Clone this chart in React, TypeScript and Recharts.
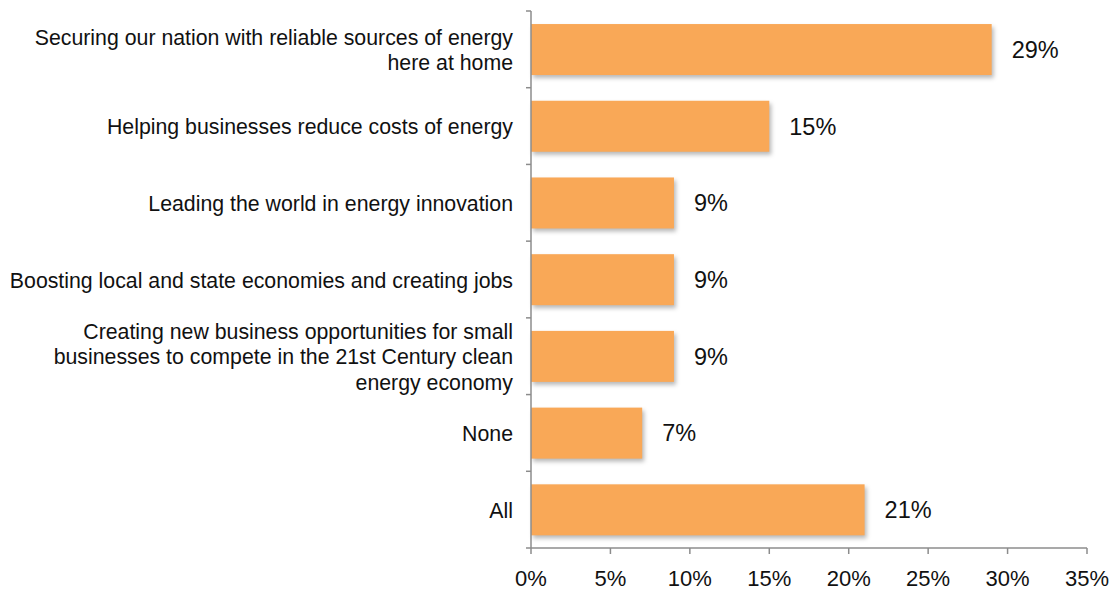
import React from "react";
import { BarChart, Bar, XAxis, YAxis, LabelList } from "recharts";

const categories = [
  "Securing our nation with reliable sources of energy\nhere at home",
  "Helping businesses reduce costs of energy",
  "Leading the world in energy innovation",
  "Boosting local and state economies and creating jobs",
  "Creating new business opportunities for small\nbusinesses to compete in the 21st Century clean\nenergy economy",
  "None",
  "All",
];
const values = [29, 15, 9, 9, 9, 7, 21];
const xTicks = [0, 5, 10, 15, 20, 25, 30, 35];

const data = categories.map((name, i) => ({ name, value: values[i] }));

const AXIS = "#8c8c8c";
const FONT = "'Liberation Sans', Arial, sans-serif";
const TICK_SIZE = 5;
const TICK_MARGIN = 13;

function CategoryTick(props: any) {
  const { x, y, payload, index, visibleTicksCount } = props;
  const lines = String(payload.value).split("\n");
  const lh = 25.3;
  const half = payload.offset ?? 38;
  const ax = x + TICK_SIZE + TICK_MARGIN;
  return (
    <g>
      <line x1={ax - TICK_SIZE} x2={ax} y1={y - half} y2={y - half} stroke={AXIS} strokeWidth={1.5} />
      {index === visibleTicksCount - 1 && (
        <line x1={ax - TICK_SIZE} x2={ax} y1={y + half} y2={y + half} stroke={AXIS} strokeWidth={1.5} />
      )}
      <text x={x} y={y} textAnchor="end" fontSize={21.3} fill="#111" fontFamily={FONT}>
        {lines.map((l, i) => (
          <tspan key={i} x={x} dy={i === 0 ? `${-((lines.length - 1) * lh) / 2 + 8}` : `${lh}`}>
            {l}
          </tspan>
        ))}
      </text>
    </g>
  );
}

function ShadowBar(props: any) {
  const { x, y, width, height, fill } = props;
  return (
    <rect
      x={x}
      y={y}
      width={width}
      height={height}
      fill={fill}
      style={{ filter: "drop-shadow(2px 3px 2px rgba(0,0,0,0.28))" }}
    />
  );
}

export default function App() {
  return (
    <div style={{ position: "absolute", left: 0, top: 0, background: "#fff" }}>
      <BarChart
        width={1114}
        height={590}
        data={data}
        layout="vertical"
        margin={{ top: 11, right: 27, bottom: 0, left: 0 }}
        barCategoryGap="17%"
      >
        <XAxis
          type="number"
          domain={[0, 35]}
          ticks={xTicks}
          tickFormatter={(v) => `${v}%`}
          height={42}
          stroke={AXIS}
          strokeWidth={1.5}
          tickSize={6}
          tickMargin={16}
          tick={{ fontSize: 22, fill: "#111", fontFamily: FONT }}
          interval={0}
        />
        <YAxis
          type="category"
          dataKey="name"
          width={531}
          stroke={AXIS}
          strokeWidth={1.5}
          tickLine={false}
          tickSize={TICK_SIZE}
          tickMargin={TICK_MARGIN}
          tick={<CategoryTick />}
          interval={0}
        />
        <Bar dataKey="value" fill="#f9a857" isAnimationActive={false} shape={<ShadowBar />}>
          <LabelList
            dataKey="value"
            position="right"
            offset={20}
            formatter={(v: any) => `${v}%`}
            style={{ fontSize: 23.5, fill: "#111", fontFamily: FONT }}
          />
        </Bar>
      </BarChart>
    </div>
  );
}
